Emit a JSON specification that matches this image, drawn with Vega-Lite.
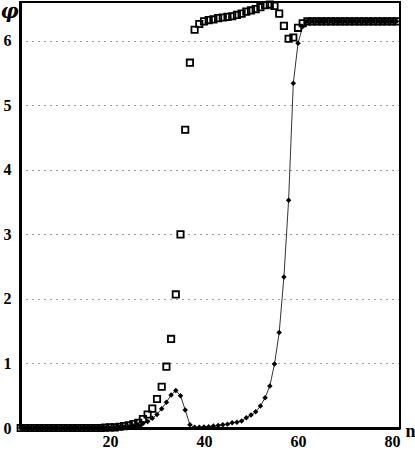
{
  "$schema": "https://vega.github.io/schema/vega-lite/v6.json",
  "autosize": "none",
  "width": 380,
  "height": 426,
  "padding": {"left": 20, "top": 2, "right": 15, "bottom": 24},
  "background": "white",
  "config": {
    "view": {"stroke": "black", "strokeWidth": 2},
    "font": "Liberation Serif"
  },
  "datasets": {
    "sq": [
      {"n":1,"phi":0},{"n":2,"phi":0},{"n":3,"phi":0},{"n":4,"phi":0},{"n":5,"phi":0},{"n":6,"phi":0},{"n":7,"phi":0},{"n":8,"phi":0},{"n":9,"phi":0},{"n":10,"phi":0},
      {"n":11,"phi":0},{"n":12,"phi":0},{"n":13,"phi":0},{"n":14,"phi":0},{"n":15,"phi":0},{"n":16,"phi":0},{"n":17,"phi":0},{"n":18,"phi":0},{"n":19,"phi":0.005},{"n":20,"phi":0.01},
      {"n":21,"phi":0.01},{"n":22,"phi":0.02},{"n":23,"phi":0.03},{"n":24,"phi":0.04},{"n":25,"phi":0.06},{"n":26,"phi":0.08},{"n":27,"phi":0.14},{"n":28,"phi":0.21},{"n":29,"phi":0.30},{"n":30,"phi":0.45},
      {"n":31,"phi":0.64},{"n":32,"phi":0.95},{"n":33,"phi":1.38},{"n":34,"phi":2.07},{"n":35,"phi":3.0},{"n":36,"phi":4.62},{"n":37,"phi":5.66},{"n":38,"phi":6.17},{"n":39,"phi":6.26},{"n":40,"phi":6.30},
      {"n":41,"phi":6.32},{"n":42,"phi":6.33},{"n":43,"phi":6.35},{"n":44,"phi":6.36},{"n":45,"phi":6.37},{"n":46,"phi":6.38},{"n":47,"phi":6.40},{"n":48,"phi":6.42},{"n":49,"phi":6.45},{"n":50,"phi":6.47},
      {"n":51,"phi":6.49},{"n":52,"phi":6.52},{"n":53,"phi":6.55},{"n":54,"phi":6.56},{"n":55,"phi":6.54},{"n":56,"phi":6.42},{"n":57,"phi":6.23},{"n":58,"phi":6.03},{"n":59,"phi":6.05},{"n":60,"phi":6.2},
      {"n":61,"phi":6.27},{"n":62,"phi":6.3},{"n":63,"phi":6.3},{"n":64,"phi":6.3},{"n":65,"phi":6.3},{"n":66,"phi":6.3},{"n":67,"phi":6.3},{"n":68,"phi":6.3},{"n":69,"phi":6.3},{"n":70,"phi":6.3},
      {"n":71,"phi":6.3},{"n":72,"phi":6.3},{"n":73,"phi":6.3},{"n":74,"phi":6.3},{"n":75,"phi":6.3},{"n":76,"phi":6.3},{"n":77,"phi":6.3},{"n":78,"phi":6.3},{"n":79,"phi":6.3},{"n":80,"phi":6.3},
      {"n":81,"phi":6.3}
    ],
    "dt": [
      {"n":1,"phi":0},{"n":2,"phi":0},{"n":3,"phi":0},{"n":4,"phi":0},{"n":5,"phi":0},{"n":6,"phi":0},{"n":7,"phi":0},{"n":8,"phi":0},{"n":9,"phi":0},{"n":10,"phi":0},
      {"n":11,"phi":0},{"n":12,"phi":0},{"n":13,"phi":0},{"n":14,"phi":0},{"n":15,"phi":0},{"n":16,"phi":0},{"n":17,"phi":0},{"n":18,"phi":0},{"n":19,"phi":0},{"n":20,"phi":0},
      {"n":21,"phi":0.005},{"n":22,"phi":0.01},{"n":23,"phi":0.015},{"n":24,"phi":0.02},{"n":25,"phi":0.03},{"n":26,"phi":0.05},{"n":27,"phi":0.07},{"n":28,"phi":0.10},{"n":29,"phi":0.15},{"n":30,"phi":0.21},
      {"n":31,"phi":0.30},{"n":32,"phi":0.40},{"n":33,"phi":0.51},{"n":34,"phi":0.58},{"n":35,"phi":0.50},{"n":36,"phi":0.28},{"n":37,"phi":0.05},{"n":38,"phi":0.01},{"n":39,"phi":0.01},{"n":40,"phi":0.015},
      {"n":41,"phi":0.02},{"n":42,"phi":0.03},{"n":43,"phi":0.04},{"n":44,"phi":0.05},{"n":45,"phi":0.06},{"n":46,"phi":0.08},{"n":47,"phi":0.09},{"n":48,"phi":0.11},{"n":49,"phi":0.16},{"n":50,"phi":0.20},
      {"n":51,"phi":0.25},{"n":52,"phi":0.34},{"n":53,"phi":0.47},{"n":54,"phi":0.65},{"n":55,"phi":0.99},{"n":56,"phi":1.48},{"n":57,"phi":2.34},{"n":58,"phi":3.53},{"n":59,"phi":5.34},{"n":60,"phi":5.96},
      {"n":61,"phi":6.22},{"n":62,"phi":6.3},{"n":63,"phi":6.3},{"n":64,"phi":6.3},{"n":65,"phi":6.3},{"n":66,"phi":6.3},{"n":67,"phi":6.3},{"n":68,"phi":6.3},{"n":69,"phi":6.3},{"n":70,"phi":6.3},
      {"n":71,"phi":6.3},{"n":72,"phi":6.3},{"n":73,"phi":6.3},{"n":74,"phi":6.3},{"n":75,"phi":6.3},{"n":76,"phi":6.3},{"n":77,"phi":6.3},{"n":78,"phi":6.3},{"n":79,"phi":6.3},{"n":80,"phi":6.3},
      {"n":81,"phi":6.3}
    ]
  },
  "encoding": {
    "x": {
      "field": "n", "type": "quantitative",
      "scale": {"domain": [0.85, 81.7], "nice": false, "zero": false},
      "axis": {
        "values": [20, 40, 60, 80], "grid": false, "ticks": false,
        "domainColor": "black", "domainWidth": 3,
        "labelFont": "Liberation Serif", "labelFontWeight": "bold", "labelFontSize": 16, "labelColor": "black", "labelPadding": 5,
        "title": "n", "titleFont": "Liberation Serif", "titleFontWeight": "bold", "titleFontSize": 18, "titleColor": "black",
        "titleX": 390, "titleY": 12, "titleAlign": "center", "titleBaseline": "bottom"
      }
    },
    "y": {
      "field": "phi", "type": "quantitative",
      "scale": {"domain": [0, 6.6], "nice": false},
      "axis": {
        "values": [0, 1, 2, 3, 4, 5, 6], "grid": true, "ticks": false,
        "gridColor": "black", "gridDash": [1, 5], "gridWidth": 1, "gridOpacity": 0.8,
        "domainColor": "black", "domainWidth": 3,
        "labelFont": "Liberation Serif", "labelFontWeight": "bold", "labelFontSize": 16, "labelColor": "black", "labelPadding": 9,
        "title": "φ", "titleFont": "DejaVu Serif", "titleFontStyle": "italic", "titleFontWeight": "bold", "titleFontSize": 20, "titleColor": "black",
        "titleAngle": 0, "titleX": -11, "titleY": 9, "titleAlign": "center", "titleBaseline": "middle"
      }
    }
  },
  "layer": [
    {
      "data": {"name": "dt"},
      "mark": {"type": "line", "color": "black", "strokeWidth": 0.8}
    },
    {
      "data": {"name": "dt"},
      "mark": {"type": "point", "shape": "diamond", "filled": true, "color": "black", "size": 30, "opacity": 1}
    },
    {
      "data": {"name": "sq"},
      "mark": {"type": "point", "shape": "square", "filled": false, "color": "black", "size": 40, "strokeWidth": 1.8, "opacity": 1}
    }
  ]
}
